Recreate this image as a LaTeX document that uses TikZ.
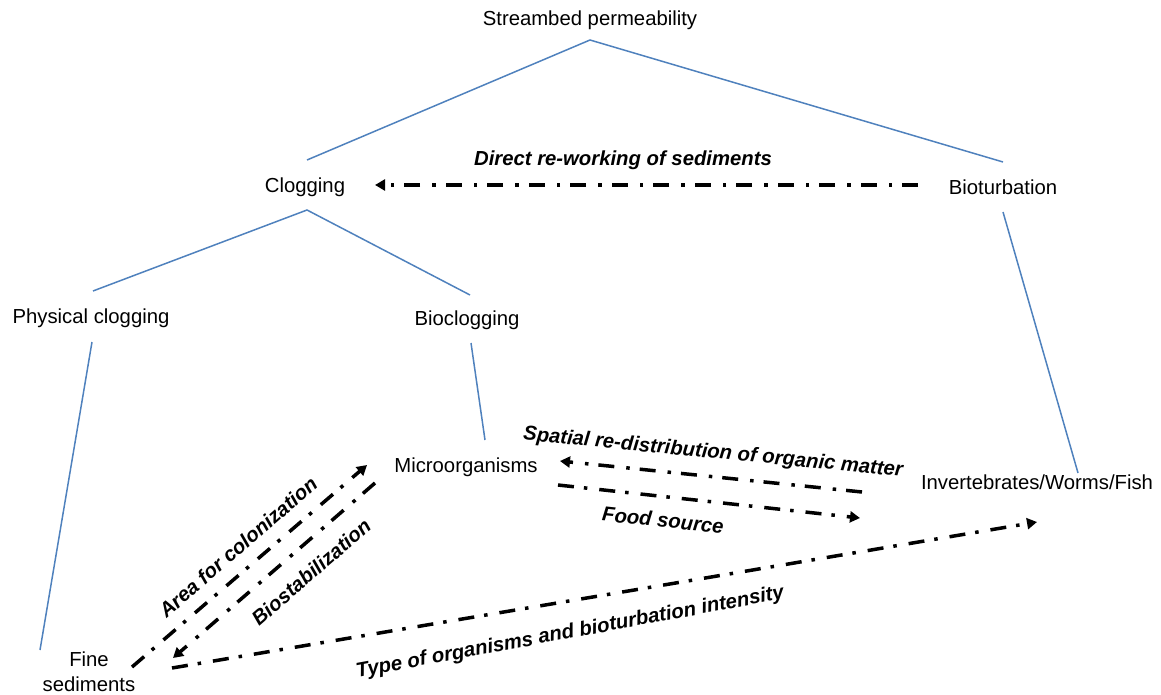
\documentclass[tikz,border=0pt]{standalone}
\usepackage{fontspec}
\setmainfont{Liberation Sans}
\usetikzlibrary{arrows.meta,calc}
\definecolor{treeblue}{RGB}{79,129,189}
\begin{document}
\begin{tikzpicture}[x=1pt,y=-1pt,
  every node/.style={font=\fontsize{20.3}{25}\selectfont, inner sep=0pt},
  term/.style={align=center},
  lbl/.style={font=\fontsize{20.3}{25}\selectfont\bfseries\itshape},
  tree/.style={draw=treeblue, line width=1.5pt},
  dd/.style={draw=black, line width=3.5pt, dash pattern=on 16pt off 10pt on 3.5pt off 12pt,
    -{Triangle[length=10pt,width=11pt]}}]
\useasboundingbox (0,0) rectangle (1161,695);

% terms
\node[term] (sp)    at (590,20)  {Streambed permeability};
\node[term] (clog)  at (305,187) {Clogging};
\node[term] (biot)  at (1003,187) {Bioturbation};
\node[term] (phys)  at (91,318)  {Physical clogging};
\node[term] (bioc)  at (467,320) {Bioclogging};
\node[term] (micro) at (466,467) {Microorganisms};
\node[term] (inv)   at (1037,482) {Invertebrates/Worms/Fish};
\node[term] (fine)  at (89,672)  {Fine\\sediments};

% tree lines
\draw[tree] ($(clog)+(2,-27)$) -- ($(sp)+(0,20)$) -- ($(biot)+(0,-25)$);
\draw[tree] ($(phys)+(2,-27)$) -- ($(clog)+(2,23)$) -- ($(bioc)+(3,-25)$);
\draw[tree] ($(phys)+(1,24)$) -- ($(fine)+(-49,-22)$);
\draw[tree] ($(bioc)+(4,23)$) -- ($(micro)+(19,-27)$);
\draw[tree] ($(biot)+(0,25)$) -- ($(inv)+(41,-9)$);

% dash-dot arrows
\draw[dd] ($(biot)+(-85,-2)$) -- ($(clog)+(70,-2)$);
\draw[dd] ($(inv)+(-175,10)$) -- ($(micro)+(94,-6)$);
\draw[dd] ($(micro)+(92,18)$) -- ($(inv)+(-177,36)$);
\draw[dd] ($(fine)+(43,-5)$) -- ($(micro)+(-99,-2)$);
\draw[dd] ($(micro)+(-91,16)$) -- ($(fine)+(84,-14)$);
\draw[dd] ($(fine)+(83,-4)$) -- ($(inv)+(0,40)$);

% labels
\node[lbl] (l1) at (623,160) {Direct re-working of sediments};
\node[lbl, rotate=-5.5] (l2) at (713,453) {Spatial re-distribution of organic matter};
\node[lbl, rotate=-6] (l3) at (663,520) {Food source};
\node[lbl, rotate=41] (l4) at (238,547) {Area for colonization};
\node[lbl, rotate=41] (l5) at (311,572) {Biostabilization};
\node[lbl, rotate=10.5] (l6) at (570,633) {Type of organisms and bioturbation intensity};
\end{tikzpicture}
\end{document}
